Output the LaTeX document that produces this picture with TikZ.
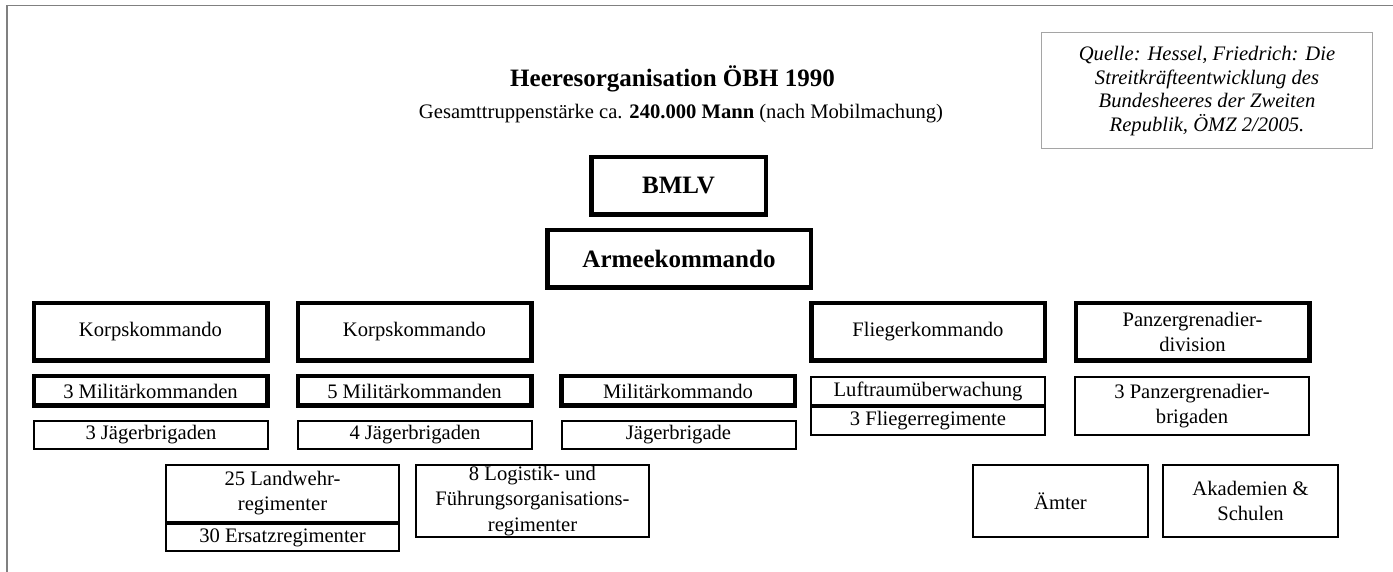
\documentclass[tikz,border=0pt]{standalone}
\usepackage{fontspec}
\setmainfont{Liberation Serif}
\usepackage{tikz}
\definecolor{framegray}{RGB}{128,128,128}
\definecolor{srcgray}{RGB}{165,165,165}
\tikzset{
  every node/.style={font=\fontsize{10.3}{12.5}\selectfont, align=center, inner sep=0pt},
  heavybox/.style={draw, rectangle, line width=2.25pt, minimum width=116.75pt, minimum height=28.75pt},
  lightbox/.style={draw, rectangle, line width=1pt, minimum width=117pt, minimum height=14pt},
  bigfont/.style={font=\bfseries\fontsize{12.5}{15}\selectfont}
}

\begin{document}
\begin{tikzpicture}[x=0.5pt, y=-0.5pt]
    \useasboundingbox (0,0) rectangle (1393,572);
    \draw [framegray, line width=0.75pt] (7,572) -- (7,5.5) -- (1393,5.5);
    \node [bigfont, anchor=base] (title) at (672.5,87) {Heeresorganisation ÖBH 1990};
    \node [anchor=base] (sub) at (681,119) {Gesamttruppenstärke ca. \textbf{240.000 Mann} (nach Mobilmachung)};
    \node [draw=srcgray, line width=0.5pt, minimum width=165.5pt, minimum height=58pt, font=\itshape\fontsize{10.3}{11.7}\selectfont] (src) at (1207,91) {Quelle: Hessel, Friedrich: Die\\Streitkräfteentwicklung des\\Bundesheeres der Zweiten\\Republik, ÖMZ 2/2005.};
    \node [heavybox, bigfont, minimum width=87.25pt] (bmlv) at (678.5,186) {BMLV};
    \node [heavybox, bigfont, minimum width=131.75pt] (ak) at (679,259) {Armeekommando};
    \node [heavybox] (kk1) at (150.5,332) {Korpskommando};
    \node [heavybox] (kk2) at (414.5,332) {Korpskommando};
    \node [heavybox] (flk) at (928,332) {Fliegerkommando};
    \node [heavybox] (pzd) at (1192.5,332) {Panzergrenadier-\\division};
    \node [heavybox, minimum height=14.75pt] (mk1) at (150.5,391) {3 Militärkommanden};
    \node [heavybox, minimum height=14.75pt] (mk2) at (414.5,391) {5 Militärkommanden};
    \node [heavybox, minimum height=14.75pt] (mk3) at (678,391) {Militärkommando};
    \node [lightbox] (jb1) at (151,435) {3 Jägerbrigaden};
    \node [lightbox] (jb2) at (415,435) {4 Jägerbrigaden};
    \node [lightbox] (jb3) at (678.5,435) {Jägerbrigade};
    \node [lightbox] (luft) at (928,391) {Luftraumüberwachung};
    \node [lightbox] (flr) at (928,421) {3 Fliegerregimente};
    \node [lightbox, minimum height=29pt] (pzb) at (1192,406) {3 Panzergrenadier-\\brigaden};
    \node [lightbox, minimum width=116.5pt, minimum height=28.5pt] (lwr) at (282.5,493.5) {25 Landwehr-\\regimenter};
    \node [lightbox, minimum width=116.5pt, minimum height=13.5pt] (esr) at (282.5,537.5) {30 Ersatzregimenter};
    \node [lightbox, minimum width=116.5pt, minimum height=36pt, font=\fontsize{10.3}{12.8}\selectfont] (log) at (532.5,501) {8 Logistik- und\\Führungsorganisations-\\regimenter};
    \node [lightbox, minimum width=87.5pt, minimum height=36pt] (amt) at (1060.5,501) {Ämter};
    \node [lightbox, minimum width=87.5pt, minimum height=36pt] (aka) at (1250.5,501) {Akademien \&\\Schulen};
\end{tikzpicture}
\end{document}
